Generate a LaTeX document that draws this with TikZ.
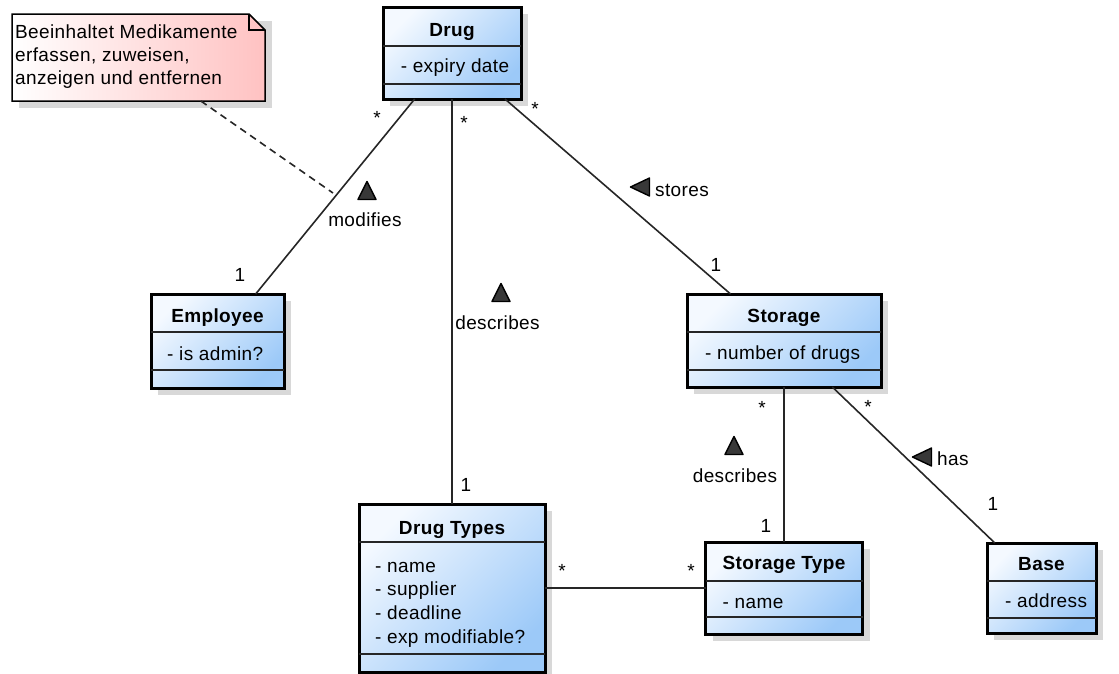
\documentclass[tikz,border=0pt]{standalone}
\usepackage{fontspec}
\setmainfont{Liberation Sans}[LetterSpace=2]
\usetikzlibrary{shadows,calc}
\definecolor{clsL}{HTML}{F4F9FF}
\definecolor{clsR}{HTML}{9CC9F8}
\definecolor{noteL}{HTML}{FFFFFF}
\definecolor{noteR}{HTML}{FFC2C2}
\definecolor{shadowc}{HTML}{D8D8D8}
\tikzset{
  tribox/.style={fill=black!78, draw=black, line width=1.4pt, line join=round},
  uptri/.pic={\draw[tribox] (-9,8.5) -- (0,-9.5) -- (9,8.5) -- cycle;},
  lefttri/.pic={\draw[tribox] (9.5,-9) -- (-9.5,0) -- (9.5,9) -- cycle;},
}
\begin{document}
\begin{tikzpicture}[x=1pt,y=-1pt,
  font=\fontsize{19}{23.5}\selectfont,
  cls/.style={draw=black, line width=3pt, inner sep=0pt, outer sep=0pt,
    top color=clsL, bottom color=clsR, shading angle=45,
    drop shadow={shadow xshift=7pt, shadow yshift=-7pt, fill=shadowc, opacity=1}},
  sepline/.style={line width=1.8pt, draw=black!85},
  cname/.style={anchor=base, inner sep=0pt, font=\fontsize{19}{23.5}\selectfont\bfseries},
  attr/.style={anchor=base west, inner sep=0pt},
  assoc/.style={line width=1.6pt, draw=black!85},
  mult/.style={anchor=base, inner sep=0pt},
  lbl/.style={anchor=base, inner sep=0pt},
]
\useasboundingbox (0,0) rectangle (1119,673);

% ---------- note ----------
\fill[shadowc] (19,21) rectangle (272,108);
\path[left color=noteL, right color=noteR, draw=black, line width=1.5pt, line join=miter]
  (12,14) -- (249,14) -- (265,30) -- (265,101) -- (12,101) -- cycle;
\draw[line width=1.5pt] (249,14) -- (249,30) -- (265,30);
\node[minimum width=253pt, minimum height=87pt, inner sep=0pt, outer sep=0pt] (note) at (138.5,57.5) {};
\node[attr] at ($(note.north west)+(3,24)$) {Beeinhaltet Medikamente};
\node[attr] at ($(note.north west)+(3,47)$) {erfassen, zuweisen,};
\node[attr] at ($(note.north west)+(3,70)$) {anzeigen und entfernen};

% ---------- classes ----------
\node[cls, minimum width=138pt, minimum height=92pt] (drug) at (452,53) {};
\draw[sepline] ($(drug.north west)+(0,39)$) -- ($(drug.north east)+(0,39)$);
\draw[sepline] ($(drug.north west)+(0,77)$) -- ($(drug.north east)+(0,77)$);
\node[cname] at ($(drug.north)+(0,29)$) {Drug};
\node[lbl] at ($(drug.north)+(3,65)$) {- expiry date};

\node[cls, minimum width=133pt, minimum height=94pt] (emp) at (217.5,341) {};
\draw[sepline] ($(emp.north west)+(0,38)$) -- ($(emp.north east)+(0,38)$);
\draw[sepline] ($(emp.north west)+(0,76)$) -- ($(emp.north east)+(0,76)$);
\node[cname] at ($(emp.north)+(0,28)$) {Employee};
\node[attr] at ($(emp.north west)+(16,66)$) {- is admin?};

\node[cls, minimum width=186pt, minimum height=168pt] (dtypes) at (452,588) {};
\draw[sepline] ($(dtypes.north west)+(0,38)$) -- ($(dtypes.north east)+(0,38)$);
\draw[sepline] ($(dtypes.north west)+(0,150)$) -- ($(dtypes.north east)+(0,150)$);
\node[cname] at ($(dtypes.north)+(0,30)$) {Drug Types};
\node[attr] at ($(dtypes.north west)+(16,68)$) {- name};
\node[attr] at ($(dtypes.north west)+(16,91.5)$) {- supplier};
\node[attr] at ($(dtypes.north west)+(16,115)$) {- deadline};
\node[attr] at ($(dtypes.north west)+(16,139)$) {- exp modifiable?};

\node[cls, minimum width=194pt, minimum height=93pt] (storage) at (784,340.5) {};
\draw[sepline] ($(storage.north west)+(0,38)$) -- ($(storage.north east)+(0,38)$);
\draw[sepline] ($(storage.north west)+(0,76)$) -- ($(storage.north east)+(0,76)$);
\node[cname] at ($(storage.north)+(0,28)$) {Storage};
\node[attr] at ($(storage.north west)+(18,65)$) {- number of drugs};

\node[cls, minimum width=157pt, minimum height=92pt] (stype) at (784,588) {};
\draw[sepline] ($(stype.north west)+(0,39)$) -- ($(stype.north east)+(0,39)$);
\draw[sepline] ($(stype.north west)+(0,75)$) -- ($(stype.north east)+(0,75)$);
\node[cname] at ($(stype.north)+(0,27)$) {Storage Type};
\node[attr] at ($(stype.north west)+(17,66)$) {- name};

\node[cls, minimum width=109pt, minimum height=90pt] (base) at (1041.5,588) {};
\draw[sepline] ($(base.north west)+(0,38)$) -- ($(base.north east)+(0,38)$);
\draw[sepline] ($(base.north west)+(0,75)$) -- ($(base.north east)+(0,75)$);
\node[cname] at ($(base.north)+(0,27)$) {Base};
\node[attr] at ($(base.north west)+(18,64)$) {- address};

% ---------- associations ----------
\draw[assoc] (drug) -- (emp);
\draw[assoc] (drug) -- (dtypes);
\draw[assoc] (drug) -- (storage);
\draw[assoc] (storage) -- (stype);
\draw[assoc] (storage) -- (base);
\draw[assoc] (dtypes) -- (stype);

\coordinate (notelink) at (333,193);
\draw[assoc, dash pattern=on 7pt off 5pt] (note) -- (notelink);

% ---------- association names ----------
\pic at (367,191) {uptri};
\node[lbl] at (365,226) {modifies};
\pic at (501,293) {uptri};
\node[lbl] at (497.5,329) {describes};
\pic at (734,446) {uptri};
\node[lbl] at (735,482) {describes};
\pic at (640,187) {lefttri};
\node[attr] at (655,196) {stores};
\pic at (922,457) {lefttri};
\node[attr] at (937,465) {has};

% ---------- multiplicities ----------
\node[mult] at (377,124) {*};
\node[mult] at (240,281) {1};
\node[mult] at (464,129) {*};
\node[mult] at (466,491) {1};
\node[mult] at (535,115) {*};
\node[mult] at (716,271) {1};
\node[mult] at (762,414) {*};
\node[mult] at (868,413) {*};
\node[mult] at (766,532) {1};
\node[mult] at (993,510) {1};
\node[mult] at (562,577) {*};
\node[mult] at (691,577) {*};
\end{tikzpicture}
\end{document}
